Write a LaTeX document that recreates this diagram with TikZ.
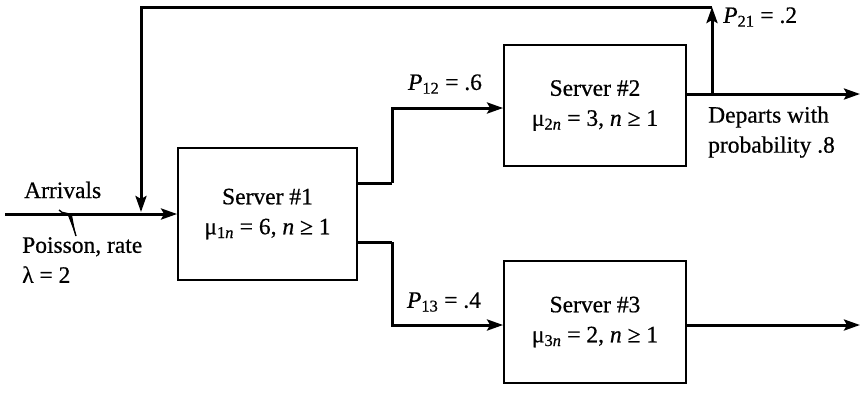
\documentclass[tikz,border=0pt]{standalone}
\usepackage{fontspec}
\setmainfont{Liberation Serif}[FakeBold=0.6, ItalicFeatures={FakeBold=0.6}]
\usetikzlibrary{arrows.meta}
\begin{document}
\begin{tikzpicture}[x=1pt,y=-1pt,
  every node/.style={font=\fontsize{23.5}{30}\selectfont, inner sep=0pt},
  server/.style={draw, line width=1.8pt, align=center, minimum width=182pt, minimum height=121pt},
  conn/.style={line width=3pt},
  tip/.style={-{Stealth[length=16pt,width=11pt,inset=3pt]}},
  lbl/.style={anchor=west, align=left}
]
\useasboundingbox (0,0) rectangle (865,392);
% servers
\node[server, minimum width=179pt, minimum height=132pt] (s1) at (267.5,214) {Server \#1\\μ\textsubscript{1\textit{n}} = 6, \textit{n} ≥ 1};
\node[server] (s2) at (595,105.5) {Server \#2\\μ\textsubscript{2\textit{n}} = 3, \textit{n} ≥ 1};
\node[server, minimum height=122pt] (s3) at (595,322) {Server \#3\\μ\textsubscript{3\textit{n}} = 2, \textit{n} ≥ 1};
% coordinates
\coordinate (arr) at (5,214);
\coordinate (j1) at (392,183);
\coordinate (j2) at (392,242);
\coordinate (d2) at (860,94);
\coordinate (fb) at (712,94);
\coordinate (fbtop) at (712,7);
\coordinate (fbin) at (141,212);
\coordinate (d3) at (860,325);
% connectors
\draw[conn,tip] (arr) -- (s1.west);
\draw[conn] (s1.east |- j1) -- (j1);
\draw[conn,tip] (j1) |- (s2.west |- 0,108);
\draw[conn] (s1.east |- j2) -- (j2);
\draw[conn,tip] (j2) |- (s3.west |- 0,325);
\draw[conn,tip] (s2.east |- d2) -- (d2);
\draw[conn,tip] (fb) -- (fbtop);
\draw[conn,tip] (fbtop) -| (fbin);
\draw[conn,tip] (s3.east |- d3) -- (d3);
% poisson pointer
\draw[line width=1.4pt] (59,210) .. controls (63,215) and (67,211) .. (70,216) -- (76,236);
\fill (67,213) -- (72,215) -- (76,236) -- cycle;
% labels
\node[lbl] (arrl) at (24,190) {Arrivals};
\node[lbl] (pois) at (22,260) {Poisson, rate\\λ = 2};
\node (p12) at (445,84) {\textit{P}\textsubscript{12} = .6};
\node (p13) at (444,302) {\textit{P}\textsubscript{13} = .4};
\node[lbl] (p21) at (723,17) {\textit{P}\textsubscript{21} = .2};
\node[lbl] (dep) at (708,132) {Departs with\\probability .8};
\end{tikzpicture}
\end{document}
